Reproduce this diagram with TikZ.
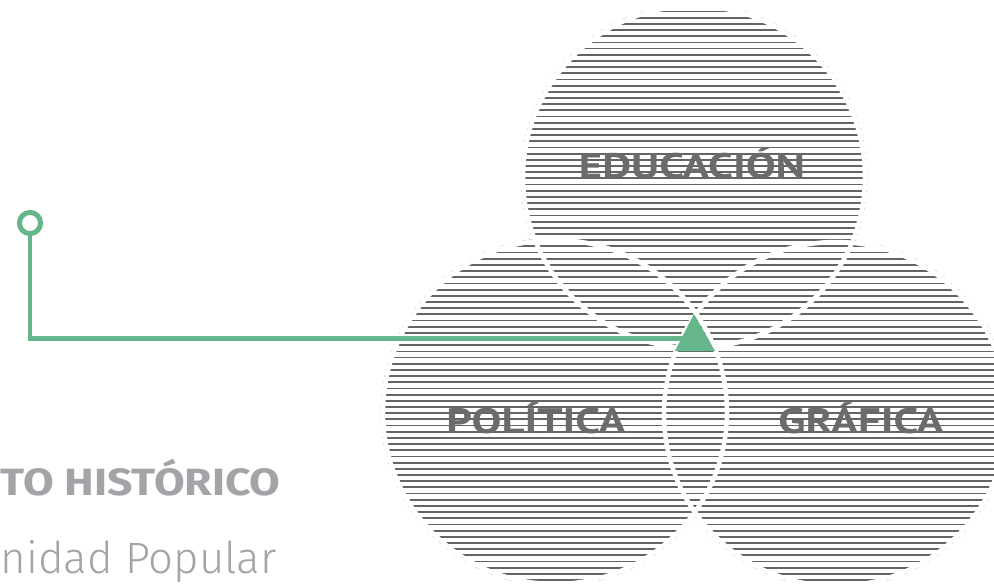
\documentclass[tikz,border=0pt]{standalone}
\usepackage{fontspec}
\setmainfont{Fira Sans}
\newfontfamily\labfont[FakeStretch=1.26]{PT Sans}
\newfontfamily\headfont[FakeStretch=1.17]{Fira Sans}
\newfontfamily\lightfont{Fira Sans Light}
\definecolor{vgreen}{HTML}{66B68B}
\definecolor{stripegray}{HTML}{646464}
\definecolor{labgray}{HTML}{6B6B6B}
\definecolor{txtgray}{HTML}{A4A4A8}
\tikzset{
  stripe/.style={stripegray, line width=1.8pt},
  gap/.style={white, line width=4.5pt},
  lab/.style={font=\labfont\bfseries\fontsize{35.5}{35.5}\selectfont, text=labgray, inner sep=0pt, anchor=base},
  greenline/.style={vgreen, line width=4.8pt},
}
\begin{document}
\begin{tikzpicture}[x=1pt,y=-1pt]
\useasboundingbox (0,0) rectangle (994,584);
\fill[white] (0,0) rectangle (994,584);
\begin{scope}
\clip (0,0) rectangle (994,584);
\coordinate (cE) at (694,177);
\coordinate (cP) at (555,412);
\coordinate (cG) at (836,414);
\begin{scope}
\clip (cE) circle (173.2) (cP) circle (174.2) (cG) circle (174.2);
\foreach \i in {0,...,95} {
  \draw[stripe] (370,{11.5+6.18*\i}) -- (1000,{11.5+6.18*\i});
}
\end{scope}
\draw[gap] (cE) circle (171);
\draw[gap] (cP) circle (172);
\draw[gap] (cG) circle (172);

\node[lab] (edu) at (692,178) {EDUCACIÓN};
\node[lab] (pol) at (536,433) {POLÍTICA};
\node[lab] (gra) at (861,433) {GRÁFICA};

\coordinate (ring) at (30,223);
\coordinate (ringbot) at (30,233);
\coordinate (corner) at (30,338.3);
\coordinate (tribase) at (690,338.3);
\fill[vgreen] (694,314) -- (715,351) -- (675,351) -- cycle;
\draw[greenline] (ringbot) -- (corner) -- (tribase);
\draw[vgreen, line width=5pt, fill=white] (ring) circle (10.6);

\node[anchor=base west, inner sep=0pt, text=txtgray, font=\headfont\bfseries\fontsize{38}{38}\selectfont] (t1) at (0.5,495) {TO HISTÓRICO};
\node[anchor=base west, inner sep=0pt, text=txtgray, font=\lightfont\fontsize{43.8}{43.8}\selectfont] (t2) at (0.5,573) {nidad Popular};
\end{scope}
\end{tikzpicture}
\end{document}
